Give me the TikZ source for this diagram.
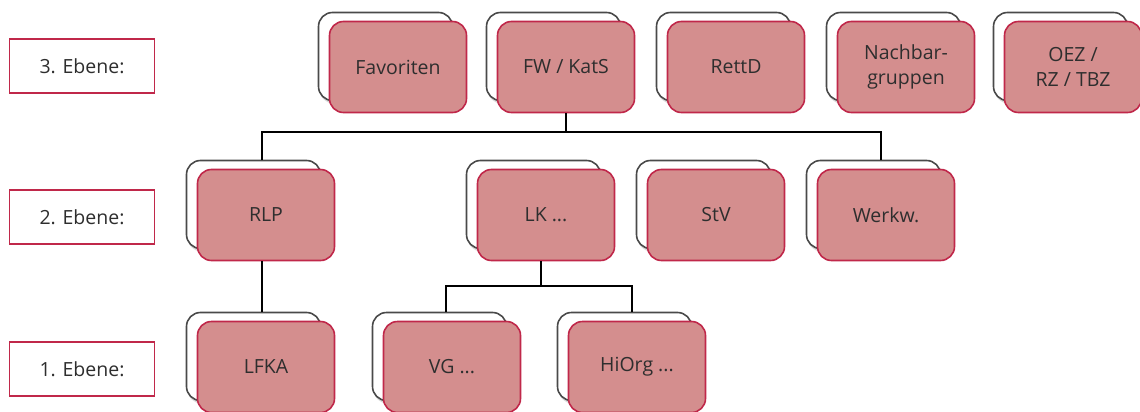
\documentclass[tikz,border=0pt]{standalone}
\usepackage{fontspec}
\setmainfont{Open Sans}
\usetikzlibrary{shadows}
\definecolor{boxfill}{HTML}{D48E8E}
\definecolor{boxline}{HTML}{C0284A}
\definecolor{txt}{HTML}{2E2E2E}
\definecolor{backline}{HTML}{4A4A4A}
\tikzset{
  x=1pt, y=-1pt,
  front/.style={draw=boxline, line width=1.6pt, fill=boxfill, rounded corners=14pt,
    minimum width=137pt, minimum height=91pt, align=center, text=txt,
    font=\fontsize{19.5}{25}\selectfont, inner sep=2pt},
  back/.style={draw=backline, line width=1.6pt, fill=white, rounded corners=14pt,
    minimum width=134pt, minimum height=88pt,
    drop shadow={shadow xshift=1pt, shadow yshift=-3pt, opacity=0.3}},
  level/.style={draw=boxline, line width=1.5pt, fill=white, minimum width=145pt,
    minimum height=54pt, text=txt, font=\fontsize{19.5}{25}\selectfont},
  link/.style={draw=black, line width=1.6pt},
}
\newcommand{\stackbox}[4]{%
  \node[back] (#1b) at (#2-12.5,#3-10.5) {};
  \node[front] (#1) at (#2,#3) {#4};
}
\begin{document}
\begin{tikzpicture}
\useasboundingbox (0,0) rectangle (1140,412);
% level labels
\node[level] (l3) at (82,66) {3. Ebene:};
\node[level] (l2) at (82,217) {2. Ebene:};
\node[level] (l1) at (82,369) {1. Ebene:};
% third level
\stackbox{fav}{398}{67}{Favoriten}
\stackbox{fw}{566}{67}{FW / KatS}
\stackbox{rett}{736}{67}{RettD}
\stackbox{nach}{906}{67}{Nachbar-\\gruppen}
\stackbox{oez}{1073}{67}{OEZ /\\RZ / TBZ}
% second level
\stackbox{rlp}{266}{215}{RLP}
\stackbox{lk}{546}{215}{LK ...}
\stackbox{stv}{716}{215}{StV}
\stackbox{werk}{886}{215}{Werkw.}
% first level
\stackbox{lfka}{266}{367}{LFKA}
\stackbox{vg}{452}{367}{VG ...}
\stackbox{hio}{637}{367}{HiOrg ...}
% connectors
\coordinate (j1) at (566,132);
\coordinate (j2) at (541,286);
\draw[link] (fw.south -| j1) -- (j1);
\draw[link] (rlpb.north -| 262,0) |- (j1) -| (werkb.north -| 881,0);
\draw[link] (lkb.north -| 541,0) -- (lkb.north -| 541,132);
\draw[link] (stvb.north -| 711,0) -- (stvb.north -| 711,132);
\draw[link] (rlp.south -| 262,0) -- (lfkab.north -| 262,0);
\draw[link] (lk.south -| j2) -- (j2);
\draw[link] (vgb.north -| 446,0) |- (j2) -| (hiob.north -| 632,0);
\end{tikzpicture}
\end{document}
